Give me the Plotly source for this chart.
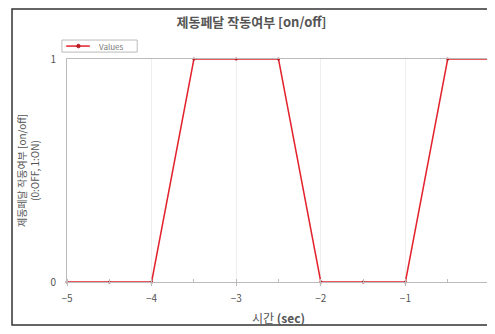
import plotly.graph_objects as go

time_sec = [-5, -4.5, -4, -3.5, -3, -2.5, -2, -1.5, -1, -0.5, 0]
values = [0, 0, 0, 1, 1, 1, 0, 0, 0, 1, 1]
x_ticks = [-5, -4, -3, -2, -1, 0]
y_ticks = [0, 1]
series_name = "Values"

FONT = "Noto Sans CJK KR, Liberation Sans, sans-serif"
RED = "#e2222c"

fig = go.Figure()
fig.add_trace(go.Scatter(
    x=time_sec, y=values, mode="lines+markers", name=series_name,
    line=dict(color=RED, width=1.5),
    marker=dict(color="#b81c24", size=3),
    cliponaxis=False, showlegend=False,
))

fig.update_layout(
    width=487, height=318,
    margin=dict(l=59, r=5, t=51, b=44, autoexpand=False),
    paper_bgcolor="white", plot_bgcolor="white",
    font=dict(family=FONT, size=9, color="#444"),
    title=dict(text="<b>제동페달 작동여부 [on/off]</b>", x=0.5, xanchor="center",
               y=1 - 14 / 318, yanchor="middle", font=dict(size=13, color="#555")),
    showlegend=False,
    xaxis=dict(range=[-5, 0], tickvals=x_ticks, showgrid=True, gridcolor="#eeeeee",
               zeroline=False, showline=True, linecolor="#bbb", mirror=True,
               ticks="outside", ticklen=3, tickcolor="#bbb", ticklabelstandoff=4,
               ticklabeloverflow="allow",
               minor=dict(dtick=0.5, ticks="inside", ticklen=3, tickcolor="#bbb", showgrid=False),
               tickfont=dict(size=10, color="#555"),
               title=dict(text="시간 <b>(sec)</b>", font=dict(size=12, color="#555"), standoff=10)),
    yaxis=dict(range=[0, 1], tickvals=y_ticks, showgrid=False,
               zeroline=False, showline=True, linecolor="#bbb", mirror=True,
               ticks="", ticklabelstandoff=8, tickfont=dict(size=10, color="#555"),
               title=dict(text="제동페달 작동여부 [on/off]<br>(0:OFF, 1:ON)",
                          font=dict(size=10, color="#555"), standoff=8)),
)

# outer frame
fig.add_shape(type="rect", xref="paper", yref="paper",
              x0=-0.130, x1=1.007, y0=-0.193, y1=1.224,
              line=dict(color="#333", width=1.5), layer="below")

# legend box (drawn by hand to match the compact reference legend)
fig.add_shape(type="rect", xref="paper", yref="paper",
              x0=-0.012, x1=0.166, y0=1.031, y1=1.085,
              line=dict(color="#bbb", width=1), fillcolor="white")
fig.add_shape(type="line", xref="paper", yref="paper",
              x0=-0.002, x1=0.054, y0=1.058, y1=1.058,
              line=dict(color=RED, width=1.5))
fig.add_shape(type="circle", xref="paper", yref="paper",
              x0=0.023, x1=0.031, y0=1.05, y1=1.066,
              line=dict(color="#b81c24", width=1), fillcolor="#b81c24")
fig.add_annotation(text=series_name, xref="paper", yref="paper",
                   x=0.07, y=1.058, xanchor="left", yanchor="middle",
                   showarrow=False, font=dict(size=8, color="#777"))

fig.write_html("out.html")
